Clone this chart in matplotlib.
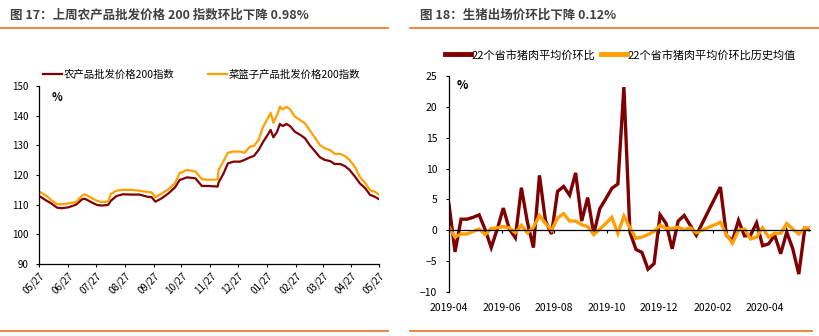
import matplotlib
matplotlib.use("Agg")
import matplotlib.pyplot as plt
import matplotlib.dates as mdates
from matplotlib.lines import Line2D
import pandas as pd

plt.rcParams['font.family'] = ['Noto Sans CJK SC', 'DejaVu Sans']

# 图17：农产品批发价格200指数（日度，自2019-05-27起的天数）
start17 = pd.Timestamp('2019-05-27')
days17 = [0, 8, 13, 19, 24, 31, 37, 40, 46, 49, 55, 62, 67, 74, 77, 83, 90, 99,
          108, 116, 121, 125, 132, 139, 146, 151, 159, 168, 175, 182, 192, 193,
          198, 203, 209, 216, 221, 227, 231, 236, 241, 245, 249, 252, 256, 259,
          262, 266, 270, 275, 281, 286, 291, 297, 302, 307, 313, 318, 324, 329,
          334, 340, 345, 351, 356, 361, 366]
agri_idx = [112.9, 111.3, 110.4, 109.0, 108.8, 109.1, 109.7, 110.1, 111.8, 112.0,
            111.0, 109.9, 109.7, 109.9, 111.3, 112.9, 113.5, 113.4, 113.4, 112.7,
            112.5, 111.0, 112.2, 113.8, 115.8, 118.3, 119.2, 118.9, 116.3, 116.3,
            116.1, 117.5, 120.3, 123.9, 124.5, 124.5, 125.1, 126.0, 126.4, 128.4,
            131.2, 133.1, 135.2, 132.7, 134.6, 137.2, 136.5, 137.2, 136.5, 134.6,
            133.5, 132.4, 130.1, 127.9, 126.0, 125.1, 124.7, 123.7, 123.7, 123.0,
            121.7, 119.4, 117.2, 115.5, 113.3, 112.7, 111.8]
basket_idx = [114.4, 112.9, 111.5, 110.2, 110.1, 110.4, 110.7, 111.0, 113.0, 113.5,
              112.5, 111.3, 110.9, 111.0, 113.6, 114.7, 115.0, 115.0, 114.7, 114.3,
              114.1, 112.5, 113.8, 115.2, 117.2, 120.6, 121.7, 121.2, 118.6, 118.4,
              118.5, 121.7, 124.5, 127.5, 127.9, 127.9, 127.5, 129.6, 129.8, 131.8,
              136.3, 138.5, 141.0, 137.6, 140.2, 143.0, 142.1, 143.0, 142.1, 139.7,
              138.5, 137.4, 135.2, 132.4, 130.1, 129.0, 128.4, 127.1, 127.1, 126.4,
              125.1, 122.6, 119.4, 117.2, 114.9, 114.4, 113.3]

# 图18：22个省市猪肉平均价环比（周度，春节期间缺数据）
start18 = pd.Timestamp('2019-04-01')
weeks18 = [w for w in range(61) if w not in (42, 43, 44)]
pork_mom = [4.2, -3.5, 1.8, 1.8, 2.1, 2.5, 0.1, -2.8, 0.2, 3.6,
            0.2, -1.2, 6.9, 1.3, -2.8, 8.9, 1.5, -0.6, 6.3, 7.1,
            5.7, 9.3, 1.5, 5.3, -0.6, 3.5, 5.1, 6.8, 7.5, 23.2,
            -0.3, -3.1, -3.6, -6.3, -5.4, 2.5, 1.1, -3.0, 1.5, 2.4,
            0.8, -0.8,
            7.0, -0.8, -1.7, 1.6, -0.9, -0.8, 1.2, -2.5, -2.2, -0.8,
            -3.8, -0.3, -3.0, -7.1, 0.3, 0.0]
pork_hist = [0.5, -1.1, -0.6, -0.6, -0.2, 0.2, -0.7, 0.3, 0.4, 0.6,
             0.4, -0.4, 0.8, -0.4, 0.5, 2.4, 1.1, 0.0, 2.0, 2.7,
             1.5, 1.5, 0.9, 0.6, -0.7, 0.2, 1.1, 2.1, -0.5, 2.3,
             0.4, -1.3, -1.1, -0.7, -0.2, 0.8, 0.3, 0.3, 0.5, 0.1,
             0.4, -0.4,
             1.3, -0.7, -2.1, 0.0, 0.2, -1.4, -1.1, 0.4, -1.1, -0.5,
             -0.5, 1.1, 0.2, -0.6, 0.4, 0.4]

title17 = '图 17：上周农产品批发价格 200 指数环比下降 0.98%'
title18 = '图 18：生猪出场价环比下降 0.12%'
labels17 = ['农产品批发价格200指数', '菜篮子产品批发价格200指数']
labels18 = ['22个省市猪肉平均价环比', '22个省市猪肉平均价环比历史均值']

RED = '#7f0000'
ORANGE = '#ff9f00'
LINE = '#ed7d31'
TXT = '#404040'

W, H = 819, 336
fig = plt.figure(figsize=(W / 100, H / 100), dpi=100)

def fx(px):
    return px / W

def fy(py):
    return 1 - py / H

# 标题和分隔线
fig.text(fx(10), fy(15), title17, fontsize=9, fontweight='bold', color=TXT, va='center')
fig.text(fx(420), fy(15), title18, fontsize=9, fontweight='bold', color=TXT, va='center')
for x0, x1 in [(0, 388), (410, 819)]:
    fig.add_artist(Line2D([fx(x0), fx(x1)], [fy(28), fy(28)], color=LINE, lw=1.3))
for x0, x1 in [(0, 388), (410, 812)]:
    fig.add_artist(Line2D([fx(x0), fx(x1)], [fy(331), fy(331)], color=LINE, lw=1.3))

# ---- 左图 ----
ax1 = fig.add_axes([fx(39.3), 1 - 264 / H, fx(340), 178 / H])
d17 = start17 + pd.to_timedelta(days17, unit='D')
l1, = ax1.plot(d17, agri_idx, color=RED, lw=1.6)
l2, = ax1.plot(d17, basket_idx, color=ORANGE, lw=1.6)
ax1.set_ylim(90, 150)
ax1.set_yticks(range(90, 151, 10))
ax1.set_xlim(start17, start17 + pd.Timedelta(days=366))
ax1.xaxis.set_major_locator(mdates.DayLocator(bymonthday=27))
ax1.xaxis.set_major_formatter(mdates.DateFormatter('%m/%d'))
for lab in ax1.get_xticklabels():
    lab.set_rotation(45)
    lab.set_ha('right')
    lab.set_rotation_mode('anchor')
ax1.tick_params(axis='both', labelsize=7, length=2.5, width=0.8, colors='black')
ax1.tick_params(axis='y', pad=5)
ax1.tick_params(axis='x', pad=2)
for s in ['top', 'right']:
    ax1.spines[s].set_visible(False)
for s in ['left', 'bottom']:
    ax1.spines[s].set_linewidth(0.9)
ax1.text(0.035, 0.97, '%', transform=ax1.transAxes, fontsize=8, fontweight='bold',
         va='top', ha='left')
fig.legend([l1, l2], labels17, loc='center left', bbox_to_anchor=(fx(43), fy(75)),
           ncol=2, frameon=False, fontsize=7.5, handlelength=1.8, handletextpad=0.2,
           columnspacing=3.2, borderpad=0, borderaxespad=0)

# ---- 右图 ----
ax2 = fig.add_axes([fx(449), 1 - 292 / H, fx(361), 216 / H])
d18 = start18 + pd.to_timedelta([w * 7 for w in weeks18], unit='D')
l3, = ax2.plot(d18, pork_mom, color=RED, lw=2.4, solid_joinstyle='miter')
l4, = ax2.plot(d18, pork_hist, color=ORANGE, lw=2.4, solid_joinstyle='miter')
ax2.set_ylim(-10, 25)
ax2.set_yticks(range(-10, 26, 5))
ax2.set_xlim(start18, start18 + pd.Timedelta(days=419))
ax2.xaxis.set_major_locator(mdates.MonthLocator(bymonth=[2, 4, 6, 8, 10, 12]))
ax2.spines['bottom'].set_position(('data', 0))
ax2.tick_params(axis='x', labelbottom=False, length=2.5, width=0.8)
ax2.tick_params(axis='y', labelsize=7.5, length=2.5, width=0.8, pad=6)
for s in ['top', 'right']:
    ax2.spines[s].set_visible(False)
for s in ['left', 'bottom']:
    ax2.spines[s].set_linewidth(0.9)
sec = ax2.secondary_xaxis(0.0)
sec.xaxis.set_major_locator(mdates.MonthLocator(bymonth=[2, 4, 6, 8, 10, 12]))
sec.xaxis.set_major_formatter(mdates.DateFormatter('%Y-%m'))
sec.spines['bottom'].set_visible(False)
sec.tick_params(axis='x', length=0, labelsize=7.5, pad=8)
ax2.text(0.02, 0.985, '%', transform=ax2.transAxes, fontsize=8.5, fontweight='bold',
         va='top', ha='left')
fig.legend([l3, l4], labels18, loc='center left', bbox_to_anchor=(fx(445), fy(55)),
           ncol=2, frameon=False, fontsize=8, handlelength=2.3, handletextpad=0.1,
           columnspacing=0.5, borderpad=0, borderaxespad=0)
for h in fig.legends[-1].legend_handles:
    h.set_linewidth(3.5)

fig.savefig('out.png', dpi=100)
